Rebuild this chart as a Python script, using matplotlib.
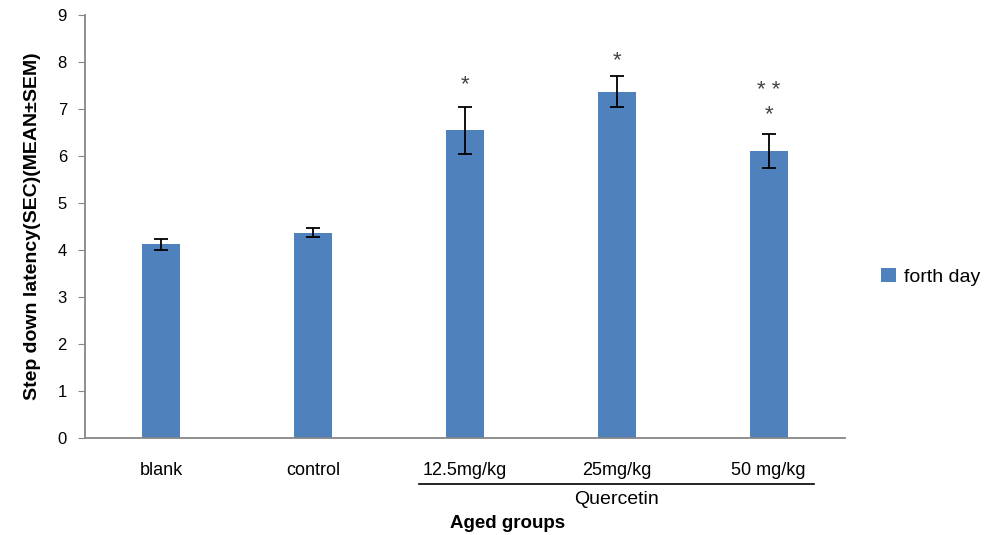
import matplotlib
matplotlib.use("Agg")
import matplotlib.pyplot as plt
import numpy as np

plt.rcParams['font.family'] = ['Liberation Sans Narrow', 'Liberation Sans', 'DejaVu Sans']

groups = ['blank', 'control', '12.5mg/kg', '25mg/kg', '50 mg/kg']
means = [4.12, 4.37, 6.55, 7.36, 6.11]
sems = [0.12, 0.1, 0.5, 0.33, 0.36]
stars = ['', '', '*', '*', '* *\n*']
star_y = [0, 0, 7.3, 7.8, 6.65]

fig = plt.figure(figsize=(9.84, 5.35), dpi=100)
ax = fig.add_axes([0.0864, 0.1813, 0.772, 0.791])

x = np.arange(len(groups))
ax.bar(x, means, width=0.25, color='#4f81bd', label='forth day', zorder=2)
ax.errorbar(x, means, yerr=sems, fmt='none', ecolor='black', elinewidth=1.3,
            capsize=5, capthick=1.3, zorder=3)
for i, s in enumerate(stars):
    if s:
        ax.text(x[i], star_y[i], s, ha='center', va='bottom', fontsize=16,
                color='#444444', linespacing=1.2)

ax.set_xlim(-0.5, 4.5)
ax.set_ylim(0, 9)
ax.set_yticks(range(10))
ax.set_xticks(x)
ax.set_xticklabels(groups, fontsize=13)
ax.tick_params(axis='x', length=0, pad=17)
ax.tick_params(axis='y', length=5, color='#868686', labelsize=12, pad=8)
for s in ['top', 'right']:
    ax.spines[s].set_visible(False)
for s in ['left', 'bottom']:
    ax.spines[s].set_color('#868686')
    ax.spines[s].set_linewidth(1.3)

# Quercetin bracket
ax.plot([1.7, 4.3], [-0.97, -0.97], color='black', lw=1.2, clip_on=False)
ax.text(3, -1.12, 'Quercetin', ha='center', va='top', fontsize=14, clip_on=False)

fig.text(0.516, 0.022, 'Aged groups', ha='center', va='center', fontsize=13.5,
         fontweight='bold')
ax.set_ylabel('Step down latency(SEC)(MEAN±SEM)', fontsize=14, fontweight='bold',
              labelpad=12)

ax.legend(loc='center left', bbox_to_anchor=(1.025, 0.38), frameon=False,
          fontsize=14, handlelength=0.75, handleheight=0.75, handletextpad=0.4)

fig.savefig('out.png', dpi=100)
